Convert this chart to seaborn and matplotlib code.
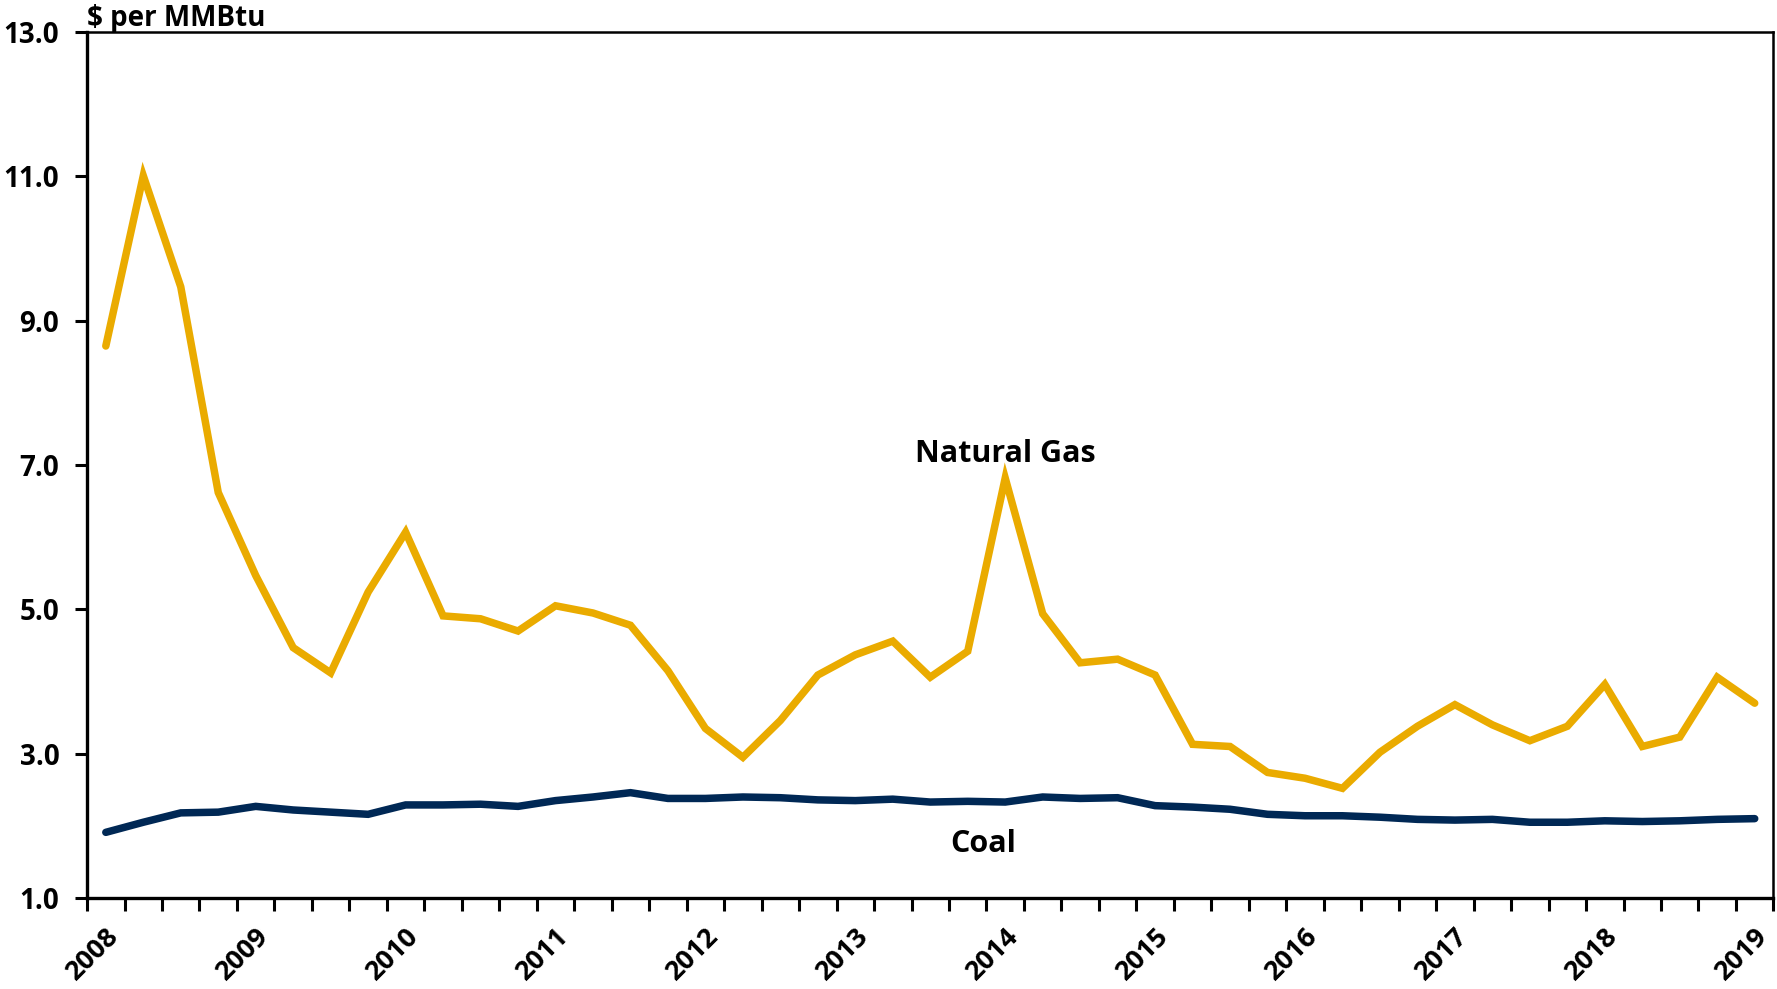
import numpy as np
import pandas as pd
import matplotlib
matplotlib.use("Agg")
import matplotlib.pyplot as plt
import seaborn as sns
from matplotlib.ticker import FixedLocator

# ---- data (quarterly, 2008 Q1 - 2019 Q1) ----
quarters = [f"{y}Q{q}" for y in range(2008, 2020) for q in range(1, 5)][:45]
natural_gas = [8.65, 11.01, 9.47, 6.62, 5.47, 4.47, 4.12, 5.24, 6.07, 4.91,
               4.87, 4.70, 5.05, 4.95, 4.78, 4.15, 3.35, 2.95, 3.46, 4.09,
               4.37, 4.56, 4.06, 4.42, 6.82, 4.94, 4.26, 4.31, 4.09, 3.13,
               3.10, 2.74, 2.66, 2.52, 3.02, 3.38, 3.68, 3.40, 3.18, 3.38,
               3.96, 3.10, 3.23, 4.06, 3.70]
coal = [1.91, 2.05, 2.18, 2.19, 2.27, 2.22, 2.19, 2.16, 2.29, 2.29,
        2.30, 2.27, 2.35, 2.40, 2.46, 2.38, 2.38, 2.40, 2.39, 2.36,
        2.35, 2.37, 2.33, 2.34, 2.33, 2.40, 2.38, 2.39, 2.28, 2.26,
        2.23, 2.16, 2.14, 2.14, 2.12, 2.09, 2.08, 2.09, 2.05, 2.05,
        2.07, 2.06, 2.07, 2.09, 2.10]
year_labels = [str(y) for y in range(2008, 2020)]
y_ticks = [1.0, 3.0, 5.0, 7.0, 9.0, 11.0, 13.0]

colors = {"Natural Gas": "#EAAB00", "Coal": "#002855"}

df = pd.DataFrame({
    "pos": list(range(len(quarters))) * 2,
    "quarter": quarters * 2,
    "price": natural_gas + coal,
    "fuel": ["Natural Gas"] * len(quarters) + ["Coal"] * len(quarters),
})

sns.set_theme(style="white")
plt.rcParams["font.family"] = ["Open Sans", "DejaVu Sans"]
plt.rcParams["font.weight"] = "bold"
plt.rcParams["text.color"] = "black"
plt.rcParams["xtick.color"] = "black"
plt.rcParams["ytick.color"] = "black"

fig = plt.figure(figsize=(17.77, 9.89), dpi=100)
ax = fig.add_axes([0.049, 0.092, 0.949, 0.8755])

sns.lineplot(data=df, x="pos", y="price", hue="fuel", palette=colors,
             linewidth=5.4, legend=False, ax=ax, sort=False)
for line in ax.get_lines():
    line.set_solid_capstyle("round")
    line.set_solid_joinstyle("miter")

n = len(quarters)
ax.set_xlim(-0.5, n - 0.5)
ax.set_ylim(1.0, 13.0)

# y axis
ax.set_yticks(y_ticks)
ax.set_yticklabels([f"{v:.1f}" for v in y_ticks], fontsize=20, fontweight="bold")
ax.tick_params(axis="y", direction="out", length=9, width=2.2, color="black",
               labelcolor="black", pad=11, left=True)

# x axis: labels every 4 quarters, ticks at category boundaries
label_pos = list(range(0, n, 4))
ax.set_xticks(label_pos)
ax.set_xticklabels(year_labels[:len(label_pos)], fontsize=19.5, fontweight="bold",
                   rotation=45, ha="right", va="top", rotation_mode="anchor")
ax.tick_params(axis="x", which="major", length=0, pad=18, bottom=True, labelcolor="black")
ax.xaxis.set_minor_locator(FixedLocator(np.arange(-0.5, n, 1.0)))
ax.tick_params(axis="x", which="minor", direction="out", length=9, width=2.2,
               color="black", bottom=True)

ax.set_xlabel("")
ax.set_ylabel("")
ax.grid(False)

for side in ["left", "bottom"]:
    ax.spines[side].set_linewidth(2.4)
    ax.spines[side].set_color("black")
for side in ["top", "right"]:
    ax.spines[side].set_linewidth(1.8)
    ax.spines[side].set_color("black")

ax.annotate("$ per MMBtu", xy=(0, 1), xycoords="axes fraction",
            xytext=(0, 4.5), textcoords="offset points",
            ha="left", va="baseline", fontsize=20, fontweight="bold", color="black")

ax.text(24, 7.15, "Natural Gas", ha="center", va="center", fontsize=22,
        fontweight="bold", color="black")
ax.text(23.4, 1.75, "Coal", ha="center", va="center", fontsize=22,
        fontweight="bold", color="black")

fig.savefig("out.png", dpi=100, facecolor="white")
